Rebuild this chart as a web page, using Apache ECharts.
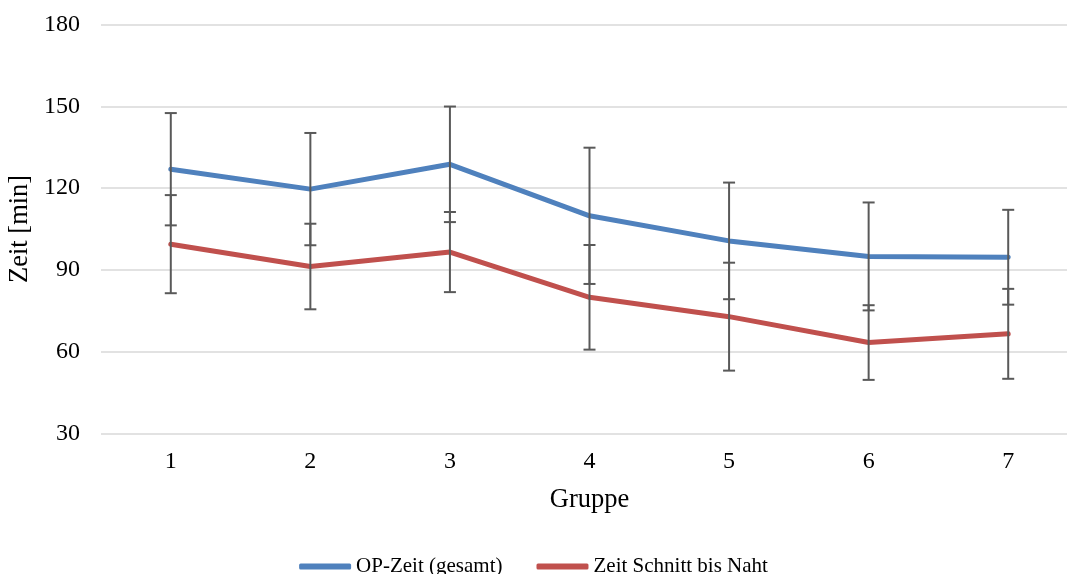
<!DOCTYPE html>
<html>
<head>
<meta charset="utf-8">
<script src="https://cdn.jsdelivr.net/npm/echarts@6/dist/echarts.min.js"></script>
<style>
  html, body { margin: 0; padding: 0; background: #ffffff; }
  #chart { width: 1067px; height: 574px; }
</style>
</head>
<body>
<div id="chart"></div>
<script>
// Groups on the x axis
const groups = ['1', '2', '3', '4', '5', '6', '7'];

// Total operating time: mean and standard deviation (min)
const opMean = [126.9, 119.6, 128.7, 109.8, 100.6, 94.9, 94.6];
const opSd   = [20.6, 20.6, 21.2, 25.0, 21.4, 19.8, 17.4];

// Incision-to-suture time: mean and standard deviation (min)
const cutMean = [99.4, 91.2, 96.5, 79.9, 72.8, 63.3, 66.5];
const cutSd   = [18.0, 15.7, 14.7, 19.2, 19.8, 13.7, 16.5];

// Y axis ticks
const yTicks = [30, 60, 90, 120, 150, 180];

const seriesNames = ['OP-Zeit (gesamt)', 'Zeit Schnitt bis Naht'];
const colors = ['#4F81BD', '#C0504D'];
const font = '"Liberation Serif", "Times New Roman", serif';

// [categoryIndex, low, high] rows for the error bar renderer
function errorRows(mean, sd) {
  return mean.map((m, i) => [i, m - sd[i], m + sd[i]]);
}

function renderErrorBar(params, api) {
  const x = api.value(0);
  const lo = api.coord([x, api.value(1)]);
  const hi = api.coord([x, api.value(2)]);
  const half = 6;
  const style = { stroke: '#595959', lineWidth: 2, fill: null };
  return {
    type: 'group',
    children: [
      { type: 'line', shape: { x1: lo[0], y1: lo[1], x2: hi[0], y2: hi[1] }, style },
      { type: 'line', shape: { x1: lo[0] - half, y1: lo[1], x2: lo[0] + half, y2: lo[1] }, style },
      { type: 'line', shape: { x1: hi[0] - half, y1: hi[1], x2: hi[0] + half, y2: hi[1] }, style }
    ]
  };
}

const chart = echarts.init(document.getElementById('chart'), null, { renderer: 'canvas' });

chart.setOption({
  animation: false,
  backgroundColor: '#ffffff',
  textStyle: { fontFamily: font },
  grid: {
    left: 101,
    top: 24.5,
    width: 977,
    height: 408.8,
    containLabel: false,
    outerBoundsMode: 'none'
  },
  legend: {
    left: 'center',
    top: 551,
    itemWidth: 52,
    itemHeight: 6,
    itemGap: 34,
    data: seriesNames.map((n, i) => ({
      name: n,
      icon: 'roundRect',
      itemStyle: { color: colors[i] }
    })),
    textStyle: { fontFamily: font, fontSize: 21, color: '#000000' }
  },
  xAxis: {
    type: 'category',
    data: groups,
    boundaryGap: true,
    name: 'Gruppe',
    nameLocation: 'middle',
    nameGap: 53,
    nameTextStyle: { fontFamily: font, fontSize: 26.5, color: '#000000' },
    axisLine: { show: false },
    axisTick: { show: false },
    axisLabel: { fontFamily: font, fontSize: 24, color: '#000000', margin: 16 }
  },
  yAxis: {
    type: 'value',
    min: yTicks[0],
    max: yTicks[yTicks.length - 1],
    interval: yTicks[1] - yTicks[0],
    name: 'Zeit [min]',
    nameLocation: 'middle',
    nameGap: 63,
    nameRotate: 90,
    nameTextStyle: { fontFamily: font, fontSize: 26.5, color: '#000000' },
    axisLine: { show: false },
    axisTick: { show: false },
    axisLabel: { fontFamily: font, fontSize: 24, color: '#000000', margin: 21 },
    splitLine: { show: true, lineStyle: { color: '#D9D9D9', width: 1.6 } }
  },
  series: [
    {
      name: seriesNames[0],
      type: 'line',
      data: opMean,
      symbol: 'none',
      lineStyle: { color: colors[0], width: 5, cap: 'round', join: 'round' },
      itemStyle: { color: colors[0] },
      z: 2
    },
    {
      name: seriesNames[1],
      type: 'line',
      data: cutMean,
      symbol: 'none',
      lineStyle: { color: colors[1], width: 5, cap: 'round', join: 'round' },
      itemStyle: { color: colors[1] },
      z: 2
    },
    {
      name: 'opErr',
      type: 'custom',
      renderItem: renderErrorBar,
      data: errorRows(opMean, opSd),
      encode: { x: 0, y: [1, 2] },
      z: 3,
      silent: true
    },
    {
      name: 'cutErr',
      type: 'custom',
      renderItem: renderErrorBar,
      data: errorRows(cutMean, cutSd),
      encode: { x: 0, y: [1, 2] },
      z: 3,
      silent: true
    }
  ]
});
</script>
</body>
</html>
